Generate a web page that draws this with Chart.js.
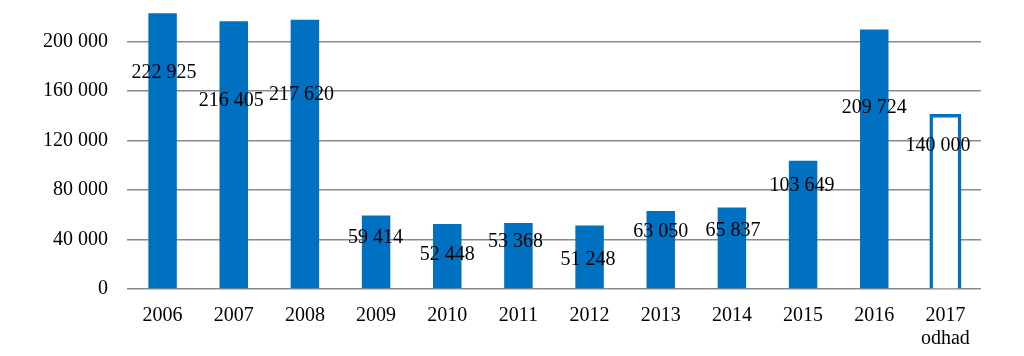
<!DOCTYPE html>
<html>
<head>
<meta charset="utf-8">
<script src="https://cdn.jsdelivr.net/npm/chart.js@4/dist/chart.umd.min.js"></script>
<style>
  html, body { margin: 0; padding: 0; background: #ffffff; }
  #wrap { width: 1024px; height: 356px; position: relative; }
</style>
</head>
<body>
<div id="wrap"><canvas id="c" width="1024" height="356"></canvas></div>
<script>
// ---- data ----
const categories = [['2006'], ['2007'], ['2008'], ['2009'], ['2010'], ['2011'], ['2012'], ['2013'], ['2014'], ['2015'], ['2016'], ['2017', 'odhad']];
const values = [222925, 216405, 217620, 59414, 52448, 53368, 51248, 63050, 65837, 103649, 209724, 140000];
const estimateFlags = [false, false, false, false, false, false, false, false, false, false, false, true];
const yTickValues = [0, 40000, 80000, 120000, 160000, 200000];

// ---- label placement (px offsets from bar top), styling ----
const labelDx = [1.5, -2.5, -3.5, -0.5, 0, -3, -1.5, 0, 1, -1, 0, -7.5];
const labelDy = [60, 79, 75, 22, 31, 19, 34, 21, 23, 25, 78, 30];
const BLUE = '#0070C0';
const FONT = '"Liberation Serif", "Times New Roman", serif';

function fmtAxis(v) {
  return String(v).replace(/\B(?=(\d{3})+(?!\d))/g, ' ');
}

const labelPlugin = {
  id: 'valueLabels',
  afterDatasetsDraw(chart) {
    const ctx = chart.ctx;
    const meta = chart.getDatasetMeta(0);
    ctx.save();
    ctx.font = '20px ' + FONT;
    ctx.fillStyle = '#000000';
    ctx.textAlign = 'center';
    ctx.textBaseline = 'middle';
    meta.data.forEach((bar, i) => {
      ctx.fillText(fmtAxis(values[i]), bar.x + labelDx[i], bar.y + labelDy[i]);
    });
    ctx.restore();
  }
};

new Chart(document.getElementById('c'), {
  type: 'bar',
  data: {
    labels: categories,
    datasets: [{
      data: values,
      backgroundColor: estimateFlags.map(f => f ? '#ffffff' : BLUE),
      borderColor: BLUE,
      borderWidth: estimateFlags.map(f => f ? 3.5 : 0),
      inflateAmount: estimateFlags.map(f => f ? 1.75 : 0),
      barPercentage: 0.4,
      categoryPercentage: 1.0
    }]
  },
  options: {
    responsive: false,
    animation: false,
    layout: { padding: { top: 2, right: 43, bottom: 0, left: 0 } },
    plugins: {
      legend: { display: false },
      tooltip: { enabled: false }
    },
    scales: {
      x: {
        grid: { display: false, drawTicks: false },
        border: { display: false },
        ticks: {
          color: '#000000',
          font: { family: FONT, size: 20, lineHeight: 1.15 },
          padding: 15,
          maxRotation: 0,
          autoSkip: false
        },
        afterFit(scale) { scale.height = 67; }
      },
      y: {
        min: 0,
        max: 232000,
        grid: { color: '#8a8a8a', lineWidth: 1.5, drawTicks: false },
        border: { display: false },
        afterBuildTicks(scale) {
          scale.ticks = yTickValues.map(v => ({ value: v }));
        },
        ticks: {
          color: '#000000',
          font: { family: FONT, size: 20 },
          padding: 19,
          callback: (v) => fmtAxis(v)
        },
        afterFit(scale) {
          scale.width = 127;
          scale.paddingTop = 0;
          scale.paddingBottom = 0;
        }
      }
    }
  },
  plugins: [labelPlugin]
});
</script>
</body>
</html>
